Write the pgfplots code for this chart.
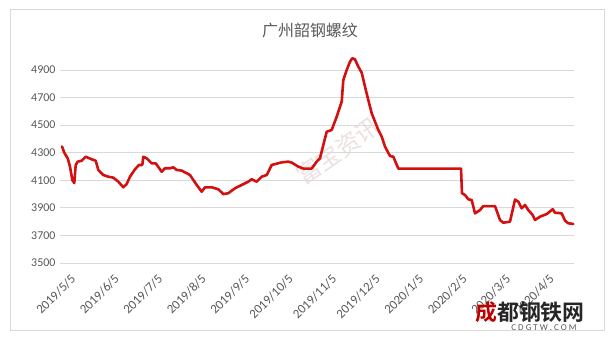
\documentclass[border=0pt]{standalone}
\usepackage{pgfplots}
\pgfplotsset{compat=1.18}
\usepackage{fontspec}
\setmainfont{Carlito}
\newfontfamily\cjk{Noto Sans CJK SC}
\newfontfamily\cjkb{Noto Sans CJK SC Bold}
\definecolor{gridgray}{RGB}{217,217,217}
\definecolor{txtgray}{RGB}{89,89,89}
\definecolor{linered}{RGB}{210,16,16}
\definecolor{wm}{RGB}{236,224,224}
\begin{document}
\begin{tikzpicture}
\useasboundingbox (-60bp,-74bp) rectangle (551bp,263bp);
\draw[gridgray, line width=0.75bp] (-50bp,-67bp) rectangle (544bp,254bp);
\node[txtgray, font=\cjk\fontsize{16}{18}\selectfont] at (250bp,233bp) {广州韶钢螺纹};
\node[wm, rotate=35, font=\cjk\fontsize{24}{26}\selectfont] at (278bp,112bp) {富宝资讯};
\begin{axis}[
  at={(0,0)}, anchor=south west,
  scale only axis, width=514bp, height=220.6bp,
  xmin=-2, xmax=512, ymin=3500, ymax=5100,
  ytick={3500,3700,3900,4100,4300,4500,4700,4900},
  xtick={0,43.5,87,130.5,174,217.5,261,304.5,348,391.5,435,478.5},
  xticklabels={2019/5/5,2019/6/5,2019/7/5,2019/8/5,2019/9/5,2019/10/5,2019/11/5,2019/12/5,2020/1/5,2020/2/5,2020/3/5,2020/4/5},
  axis line style={draw=none}, major tick length=0pt,
  ymajorgrids, grid style={color=gridgray, line width=0.75bp},
  /pgf/number format/assume math mode=true,
  /pgf/number format/1000 sep={},
  ticklabel style={text=txtgray},
  yticklabel style={xshift=-1bp, font=\fontsize{12}{14}\selectfont},
  xticklabel style={font=\fontsize{13}{15}\selectfont, xshift=8bp, yshift=-9bp, rotate=45, anchor=north east, inner sep=1bp},
  clip=false,
]
\addplot[linered, line width=2.6bp, line join=round, line cap=round] coordinates {
(0,4345) (2.3,4300) (5.7,4259) (8,4199) (10.3,4102) (12.3,4080) (13.7,4211)
(15.7,4235) (19.7,4242) (23.7,4271) (29.7,4252) (33.7,4242) (36.3,4175)
(41.3,4138) (46.3,4126) (51.3,4119) (56.3,4090) (61.3,4049) (64.7,4073)
(68,4126) (73,4180) (77,4211) (80.3,4211) (81.3,4271) (84.7,4259)
(89.7,4223) (93.7,4223) (99.7,4162) (103,4187) (108,4187) (111.3,4194)
(114.7,4175) (119.7,4170) (124.7,4151) (128,4138) (134.7,4066) (139.7,4017)
(143,4049) (149.7,4049) (156.3,4035) (161.3,4000) (166.3,4006) (173,4042)
(179.7,4066) (186.3,4090) (189.7,4107) (194.7,4090) (199.7,4126) (204.7,4138)
(209.7,4211) (219.7,4230) (226.3,4235) (229.7,4228) (236.3,4199) (241.3,4185)
(249.7,4185) (254.7,4235) (258,4260) (261.3,4356) (264.7,4452) (269.7,4465)
(274.7,4561) (279.7,4670) (281.3,4827) (284.7,4900) (288,4960) (290.3,4985)
(293,4977) (296.3,4924) (299.7,4880) (303,4779) (306.3,4682) (309.7,4586)
(313,4525) (316.3,4465) (319.7,4416) (323,4344) (328,4276) (331.3,4271)
(336.3,4185) (399,4185) (400,4006) (403,3993) (406.3,3962) (409.7,3957)
(413,3860) (418,3884) (421.3,3913) (433,3913) (438,3812) (441.3,3792)
(448,3800) (453,3960) (456.3,3945) (459.7,3897) (463,3921) (466.3,3884)
(470.7,3848) (473,3812) (478,3836) (484.7,3855) (490.7,3890) (493,3865)
(499.7,3860) (503,3807) (506.3,3788) (511.3,3783)
};
\end{axis}
\node[font=\cjkb\fontsize{22}{24}\selectfont, text=black!85] at (470bp,-49bp) {\textcolor{red!75!black}{成}都钢铁网};
\node[font=\fontsize{9}{10}\selectfont, text=txtgray] at (484bp,-65bp) {C D G T W . C O M};
\end{tikzpicture}
\end{document}
